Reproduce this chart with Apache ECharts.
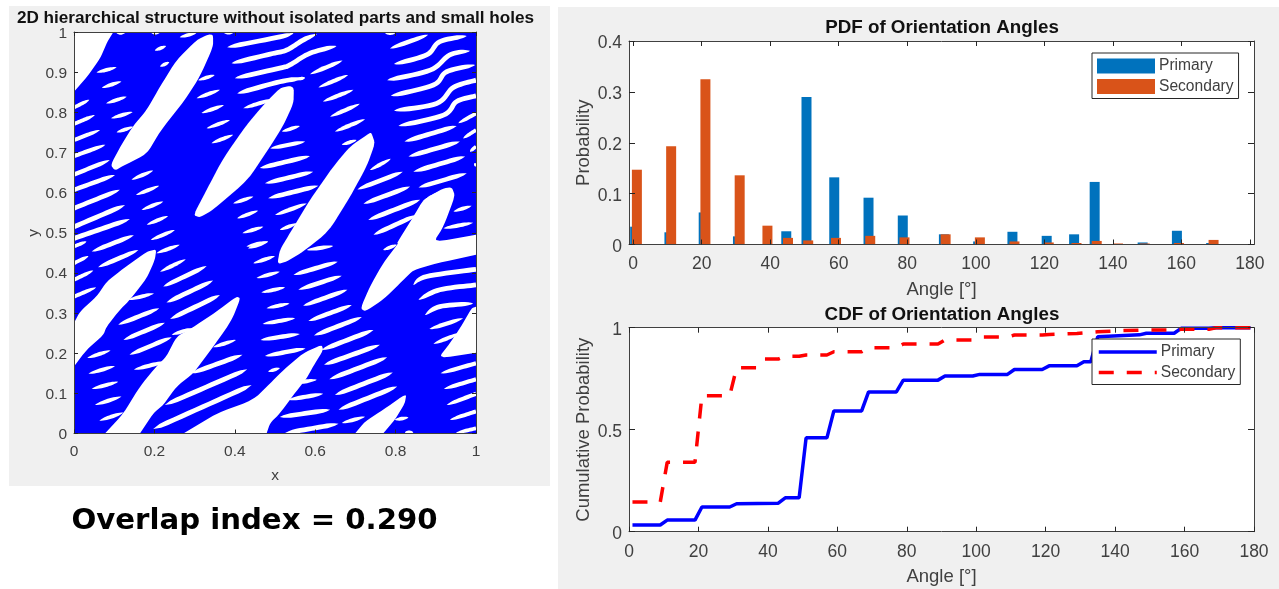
<!DOCTYPE html>
<html>
<head>
<meta charset="utf-8">
<style>html,body{margin:0;padding:0;background:#fff}#c{width:1279px;height:589px}</style>
<script src="https://cdn.jsdelivr.net/npm/echarts@6/dist/echarts.min.js"></script>
</head>
<body>
<div id="c"></div>
<script>
const solidField = [[0,0],[1,0],[1,1],[0,1]];

const voidRegions = [
 [[0,1],[.098,1],[.083,.976],[.065,.934],[.033,.889],[0,.851]],
 [[.346,.993],[.346,.963],[.313,.889],[.276,.831],[.214,.752],[.181,.696],[.123,.667],[.102,.655],[.091,.669],[.118,.719],[.147,.766],[.181,.806],[.214,.864],[.255,.930],[.305,.980],[.334,.994]],
 [[.297,.544],[.330,.607],[.371,.685],[.429,.768],[.471,.818],[.512,.860],[.537,.866],[.547,.860],[.546,.822],[.521,.768],[.488,.715],[.433,.632],[.346,.557],[.313,.538]],
 [[.736,.749],[.687,.715],[.645,.665],[.587,.582],[.537,.499],[.512,.457],[.506,.422],[.529,.428],[.570,.453],[.633,.503],[.687,.590],[.728,.665],[.749,.723],[.740,.748]],
 [[.803,.474],[.844,.540],[.869,.582],[.919,.611],[.940,.613],[.948,.592],[.919,.515],[.894,.476],[1,.495],[1,.445],[.902,.424],[.844,.407],[.819,.382],[.769,.333],[.724,.304],[.713,.312],[.736,.366],[.769,.424],[.807,.474]],
 [[0,.275],[.015,.304],[.056,.341],[.081,.378],[.123,.411],[.181,.453],[.205,.459],[.201,.432],[.181,.387],[.139,.333],[.114,.308],[.081,.266],[.073,.245],[.031,.208],[0,.167]],
 [[.077,0],[.123,.050],[.164,.117],[.205,.167],[.230,.192],[.255,.241],[.292,.262],[.355,.304],[.404,.341],[.414,.337],[.396,.291],[.379,.262],[.346,.216],[.297,.150],[.255,.117],[.222,.071],[.197,.050],[.164,0]],
 [[.272,0],[.355,.050],[.446,.084],[.488,.125],[.521,.158],[.570,.200],[.616,.221],[.620,.208],[.595,.167],[.579,.138],[.546,.096],[.512,.050],[.488,.026],[.479,0]],
 [[.699,0],[.724,.030],[.769,.059],[.827,.100],[.823,.075],[.798,.034],[.769,0]],
 [[1,.316],[.989,.312],[.960,.262],[.935,.225],[.906,.187],[1,.201]]
];

const voidStreaks = [
 [.106,.997,.127,.998],[.193,.997,.214,.999],[.263,.987,.305,.998],[.373,.998,.396,.998],
 [.201,.954,.229,.965],[.214,.914,.237,.925],[.056,.899,.106,.912],[.069,.861,.118,.877],
 [.080,.822,.131,.839],[.092,.785,.146,.801],[.106,.750,.147,.764],
 [0,.812,.038,.831],[0,.771,.052,.793],[0,.731,.065,.756],[0,.691,.078,.719],[0,.645,.089,.681],
 [0,.607,.102,.644],[0,.561,.114,.607],[0,.515,.127,.569],[0,.486,.139,.534],[.044,.453,.149,.494],
 [.060,.414,.160,.457],[0,.424,.036,.442],[0,.383,.048,.406],[0,.341,.055,.364],[0,.466,.031,.478],
 [.143,.632,.197,.655],[.154,.594,.212,.617],[.168,.557,.222,.578],[.181,.520,.234,.542],[.191,.482,.251,.507],
 [.205,.449,.263,.470],[.214,.403,.278,.434],[.222,.366,.330,.417],[.230,.326,.346,.381],[.239,.285,.363,.345],
 [.110,.271,.212,.312],[.123,.233,.226,.276],[.138,.196,.243,.240],[.149,.159,.226,.179],[.135,.333,.199,.349],
 [.243,.246,.295,.262],[.033,.188,.091,.207],[.036,.149,.102,.168],[.044,.111,.110,.129],[.052,.071,.118,.092],
 [.063,.032,.123,.052],[.346,.215,.403,.233],[.292,.150,.419,.196],[.226,.071,.431,.160],[.197,.011,.442,.121],
 [.381,.962,.512,.988,.546,.997],[.392,.922,.488,.945,.529,.955,.570,.980,.604,.995],
 [.400,.885,.512,.910,.537,.918,.587,.947,.653,.965],[.406,.847,.512,.876,.570,.885],[.421,.810,.495,.833],
 [.587,.895,.668,.929],[.608,.862,.682,.893],[.619,.827,.695,.856],[.637,.789,.711,.821],[.649,.752,.724,.783],
 [.666,.719,.703,.731],[.554,.882,.575,.886],
 [.342,.723,.396,.744],[.330,.760,.388,.781],[.317,.798,.373,.818],[.305,.835,.363,.856],[.309,.880,.350,.893],
 [.462,.661,.587,.691],[.475,.623,.595,.652],[.483,.586,.608,.617],[.488,.710,.575,.727],[.517,.752,.562,.766],
 [.500,.544,.579,.573],[.396,.573,.446,.590],[.406,.536,.458,.555],[.419,.499,.471,.515],[.433,.461,.483,.478],
 [.512,.507,.554,.523],
 [.429,.466,.483,.478],[.446,.424,.500,.442],[.454,.387,.512,.403],[.466,.351,.525,.364],[.479,.312,.536,.324],
 [.469,.273,.550,.287],[.464,.233,.562,.248],[.475,.193,.576,.212],[.483,.154,.512,.163],
 [.579,.457,.645,.467],[.546,.395,.656,.428],[.558,.358,.666,.393],[.570,.318,.680,.358],[.583,.280,.691,.320],
 [.597,.244,.716,.290],[.616,.208,.745,.258],[.622,.171,.761,.221],[.635,.135,.779,.190],[.649,.096,.793,.152],
 [.658,.059,.804,.117],
 [.736,.656,.788,.684],[.705,.608,.818,.652],[.720,.572,.836,.615],[.732,.532,.861,.582],[.745,.495,.852,.544],
 [.769,.457,.803,.470],
 [.546,.125,.604,.134],[.533,.084,.620,.099],[.512,.041,.637,.059],[.525,.001,.658,.024],[.666,.026,.724,.042],
 [.798,.034,.832,.040],[.823,.003,.844,.003],
 [.844,.370,.877,.391,1,.409],[.857,.333,.910,.358,1,.370],[.873,.295,.910,.316,.993,.324],[.884,.260,.968,.287],
 [.894,.223,.960,.250],[.912,.150,1,.175],[.920,.111,1,.135],[.927,.071,1,.099],[.935,.034,1,.055],[.950,.001,1,.013],
 [.786,.959,.881,.993],[.796,.920,.877,.943,.910,.976,.977,.990],[.779,.880,.886,.905,.935,.943,.985,.953],
 [.788,.841,.894,.868,.927,.901,.998,.918],[.796,.804,.902,.822,.944,.862,1,.880],[.807,.766,.919,.793,.952,.827,1,.841],
 [.822,.727,.952,.766],[.956,.773,1,.797],[.832,.690,.960,.727],[.968,.735,1,.756],[.844,.652,.973,.690],
 [.985,.702,1,.715],[.857,.613,.977,.648],[.998,.665,1,.673],[.867,.578,.927,.607],[.944,.553,.989,.567],
 [.919,.511,.993,.525],[.774,.997,.799,.997]
];

const pdfAnglesPrimary = [0.6,10.6,20.6,30.6,38.7,44.7,50.6,58.7,68.7,78.7,90.7,100.7,110.7,120.7,128.7,134.7,148.7,158.7,168.7];
const pdfPrimary = [.035,.024,.063,.016,.001,.026,.290,.132,.092,.057,.020,.006,.025,.017,.020,.123,.004,.027,.003];
const pdfAnglesSecondary = [1.1,11.1,21.1,31.1,39.2,45.2,51.1,59.2,69.2,79.2,91.2,101.2,111.3,121.3,129.4,135.3,141.5,149.3,159.3,169.4];
const pdfSecondary = [.147,.193,.325,.136,.037,.013,.008,.013,.017,.014,.020,.014,.006,.004,.003,.007,.002,.002,.003,.009];

const cdfAnglesPrimary = [1,9,11,19,21,29,31,43,45,49,51,57,59,67,69,77,79,89,91,99,101,109,111,119,121,129,131,133,135,147,149,157,159,167,169,179];
const cdfPrimary = [.033,.033,.057,.057,.121,.121,.137,.140,.166,.166,.460,.460,.592,.592,.685,.685,.743,.743,.763,.763,.771,.771,.795,.795,.813,.813,.833,.833,.956,.965,.973,.973,.997,.997,1,1];
const cdfAnglesSecondary = [1,9,11,19,21,29,31,37,39,43,45,49,51,57,59,67,69,77,79,89,91,99,101,109,111,119,121,129,135,141,149,157,159,167,169,179];
const cdfSecondary = [.145,.145,.340,.340,.667,.667,.804,.804,.846,.846,.860,.860,.866,.866,.882,.882,.902,.902,.920,.920,.940,.940,.954,.954,.964,.964,.967,.972,.980,.985,.989,.989,.992,.992,1,1];

const angleTicks = [0,20,40,60,80,100,120,140,160,180];
const titles = ['2D hierarchical structure without isolated parts and small holes','PDF of Orientation Angles','CDF of Orientation Angles','Overlap index = 0.290'];

const pair = a => { const r=[]; for(let i=0;i<a.length;i+=2) r.push([a[i],a[i+1]]); return r; };
const zip = (a,b) => a.map((v,i)=>[v,b[i]]);

function rounded(poly){
  let cur=poly.map(p=>({p,fixed:p[0]===0||p[0]===1||p[1]===0||p[1]===1}));
  for(let it=0;it<2;it++){
    const out=[];
    cur.forEach((v,i)=>{
      if(v.fixed){out.push(v);return;}
      const a=cur[(i-1+cur.length)%cur.length].p,b=cur[(i+1)%cur.length].p,q=v.p;
      out.push({p:[q[0]+(a[0]-q[0])*.17,q[1]+(a[1]-q[1])*.17]});
      out.push({p:[q[0]+(b[0]-q[0])*.17,q[1]+(b[1]-q[1])*.17]});
    });
    cur=out;
  }
  return cur.map(v=>v.p);
}
function spineSamples(p){
  if(p.length===2){const o=[];for(let i=0;i<=14;i++){const t=i/14;o.push([p[0][0]+(p[1][0]-p[0][0])*t,p[0][1]+(p[1][1]-p[0][1])*t]);}return o;}
  const o=[];
  for(let i=0;i<p.length-1;i++){
    const a=p[Math.max(i-1,0)],b=p[i],c=p[i+1],d=p[Math.min(i+2,p.length-1)];
    for(let k=0;k<10;k++){const t=k/10,t2=t*t,t3=t2*t;
      o.push([0,1].map(j=>.5*(2*b[j]+(c[j]-a[j])*t+(2*a[j]-5*b[j]+4*c[j]-d[j])*t2+(3*b[j]-a[j]-3*c[j]+d[j])*t3)));}
  }
  o.push(p[p.length-1]);return o;
}
function streakItem(params,api){
  const raw=pair(voidStreaks[api.value(0)]);
  const bluntA=raw[0][0]<=0||raw[0][0]>=1, bluntB=raw[raw.length-1][0]<=0||raw[raw.length-1][0]>=1;
  const s=spineSamples(raw.map(q=>api.coord(q)));
  const d=[0];for(let i=1;i<s.length;i++)d.push(d[i-1]+Math.hypot(s[i][0]-s[i-1][0],s[i][1]-s[i-1][1]));
  const L=d[d.length-1]||1, tl=Math.min(14,L/2), hw=Math.min(2.4,1.6+L/70);
  const up=[],dn=[];
  for(let i=0;i<s.length;i++){
    const a=s[Math.max(i-1,0)],b=s[Math.min(i+1,s.length-1)];
    const nx=-(b[1]-a[1]),ny=b[0]-a[0],n=Math.hypot(nx,ny)||1;
    const tA=bluntA?1:Math.pow(Math.sin(Math.min(d[i]/tl,1)*Math.PI/2),.7);
    const tB=bluntB?1:Math.pow(Math.sin(Math.min((L-d[i])/tl,1)*Math.PI/2),.7);
    const w=hw*Math.min(tA,tB);
    up.push([s[i][0]+nx/n*w,s[i][1]+ny/n*w]);dn.unshift([s[i][0]-nx/n*w,s[i][1]-ny/n*w]);
  }
  return {type:'polygon',shape:{points:up.concat(dn)},style:{fill:'#fff'}};
}

const inkLabel='#404040', inkTick='#262626', sans='"Liberation Sans",Arial,sans-serif';
function box(o){
  const common={min:o.min,max:o.max,gridIndex:o.grid,z:10,splitLine:{show:false},
    axisLine:{onZero:false,lineStyle:{color:inkLabel,width:1}}};
  const tickCfg={show:true,inside:true,length:o.tick,lineStyle:{color:inkTick,width:1}};
  if(o.custom) tickCfg.customValues=o.custom;
  const main=Object.assign({},common,{type:'value',position:o.pos,name:o.name,nameLocation:'middle',nameGap:o.gap,
    nameTextStyle:{color:inkLabel,fontFamily:sans,fontSize:o.nameSize},
    axisTick:tickCfg,
    axisLabel:Object.assign({show:true,color:inkLabel,fontFamily:sans,fontSize:o.size,margin:o.margin,showMinLabel:true,showMaxLabel:true},
      o.custom?{customValues:o.custom}:{}, o.pad?{verticalAlign:'top',padding:o.pad}:{})});
  if(o.interval) main.interval=o.interval;
  const mirror=Object.assign({},common,{type:'value',position:o.pos==='bottom'?'top':'right',axisTick:tickCfg,axisLabel:{show:false}});
  if(o.interval) mirror.interval=o.interval;
  return [main,mirror];
}
const xAxes=[].concat(
  box({grid:0,pos:'bottom',min:0,max:1,interval:.2,tick:4,name:'x',gap:34,nameSize:15.5,size:15.5,margin:10.5}),
  box({grid:1,pos:'bottom',min:-1.2,max:181.2,custom:angleTicks,tick:5,name:'Angle [°]',gap:36,nameSize:18.5,size:17.5,margin:11}),
  box({grid:2,pos:'bottom',min:0,max:180,custom:angleTicks,tick:5,name:'Angle [°]',gap:36,nameSize:18.5,size:17.5,margin:11})
);
const yAxes=[].concat(
  box({grid:0,pos:'left',min:0,max:1,interval:.1,tick:4,name:'y',gap:32,nameSize:15.5,size:15.5,margin:7,pad:[-6.75,0,0,0]}),
  box({grid:1,pos:'left',min:0,max:.4,interval:.1,tick:6,name:'Probability',gap:35,nameSize:18.5,size:17.5,margin:7,pad:[-6.75,0,0,0]}),
  box({grid:2,pos:'left',min:0,max:1,interval:.5,tick:6,name:'Cumulative Probability',gap:35,nameSize:18.5,size:17.5,margin:7,pad:[-6.75,0,0,0]})
);
const legendBase={orient:'vertical',left:1092,itemWidth:58,itemHeight:15,itemGap:4.5,padding:[5,5,4,5],
  backgroundColor:'#fff',borderColor:inkTick,borderWidth:1,borderRadius:0,z:20,selectedMode:false,
  textStyle:{color:inkLabel,fontFamily:sans,fontSize:15.6,padding:[0,0,0,-1]}};

const option={
  animation:false,backgroundColor:'#fff',
  graphic:{elements:[
    {type:'rect',z:-100,shape:{x:9,y:6,width:541,height:480},style:{fill:'#f0f0f0'}},
    {type:'rect',z:-100,shape:{x:558,y:7,width:721,height:582},style:{fill:'#f0f0f0'}}
  ]},
  title:[
    {text:titles[0],left:275.5,top:10,textAlign:'center',padding:0,textStyle:{fontFamily:sans,fontWeight:'bold',fontSize:17.15,color:'#111'}},
    {text:titles[1],left:942,top:18,textAlign:'center',padding:0,textStyle:{fontFamily:sans,fontWeight:'bold',fontSize:18.8,color:'#111'}},
    {text:titles[2],left:942,top:305,textAlign:'center',padding:0,textStyle:{fontFamily:sans,fontWeight:'bold',fontSize:18.8,color:'#111'}},
    {text:titles[3],left:254.5,top:507,textAlign:'center',padding:0,textStyle:{fontFamily:'"DejaVu Sans",Verdana,sans-serif',fontWeight:'bold',fontSize:29.2,color:'#000'}}
  ],
  grid:[
    {left:74,top:32,width:402,height:401.5,show:true,backgroundColor:'#fff',borderWidth:0},
    {left:629,top:41,width:625,height:203.5,show:true,backgroundColor:'#fff',borderWidth:0},
    {left:629,top:327.7,width:625,height:204,show:true,backgroundColor:'#fff',borderWidth:0}
  ],
  xAxis:xAxes,
  yAxis:yAxes,
  legend:[
    Object.assign({},legendBase,{top:53,id:'pdfLegend',icon:'rect',data:['Primary','Secondary']}),
    Object.assign({},legendBase,{top:339,id:'cdfLegend',lineStyle:{width:3.5},
      data:[{name:'Primary CDF',itemStyle:{opacity:0}},{name:'Secondary CDF',itemStyle:{opacity:0}}],formatter:n=>n.replace(' CDF','')})
  ],
  series:[
    {type:'custom',name:'Solid',xAxisIndex:0,yAxisIndex:0,clip:true,silent:true,data:[[0]],
      renderItem:(p,api)=>({type:'polygon',shape:{points:solidField.map(q=>api.coord(q))},style:{fill:'#0000ff'}})},
    {type:'custom',name:'Large voids',xAxisIndex:0,yAxisIndex:0,clip:true,silent:true,data:voidRegions.map((_,i)=>[i]),
      renderItem:(p,api)=>({type:'polygon',shape:{points:rounded(voidRegions[api.value(0)]).map(q=>api.coord(q))},style:{fill:'#fff'}})},
    {type:'custom',name:'Small voids',xAxisIndex:0,yAxisIndex:0,clip:true,silent:true,data:voidStreaks.map((_,i)=>[i]),renderItem:streakItem},
    {type:'bar',name:'Primary',xAxisIndex:2,yAxisIndex:2,barWidth:10,barGap:'-100%',data:zip(pdfAnglesPrimary,pdfPrimary),itemStyle:{color:'#0072BD'}},
    {type:'bar',name:'Secondary',xAxisIndex:2,yAxisIndex:2,barWidth:10,barGap:'-100%',data:zip(pdfAnglesSecondary,pdfSecondary),itemStyle:{color:'#D95319'}},
    {type:'line',name:'Primary CDF',xAxisIndex:4,yAxisIndex:4,showSymbol:false,symbol:'none',clip:false,data:zip(cdfAnglesPrimary,cdfPrimary),lineStyle:{color:'#0000ff',width:3.5},itemStyle:{color:'#0000ff'}},
    {type:'line',name:'Secondary CDF',xAxisIndex:4,yAxisIndex:4,showSymbol:false,symbol:'none',clip:false,data:zip(cdfAnglesSecondary,cdfSecondary),lineStyle:{color:'#ff0000',width:3.5,type:[15,13]},itemStyle:{color:'#ff0000'}}
  ]
};
const chart=echarts.init(document.getElementById('c'),null,{renderer:'canvas'});
chart.setOption(option);
</script>
</body>
</html>
